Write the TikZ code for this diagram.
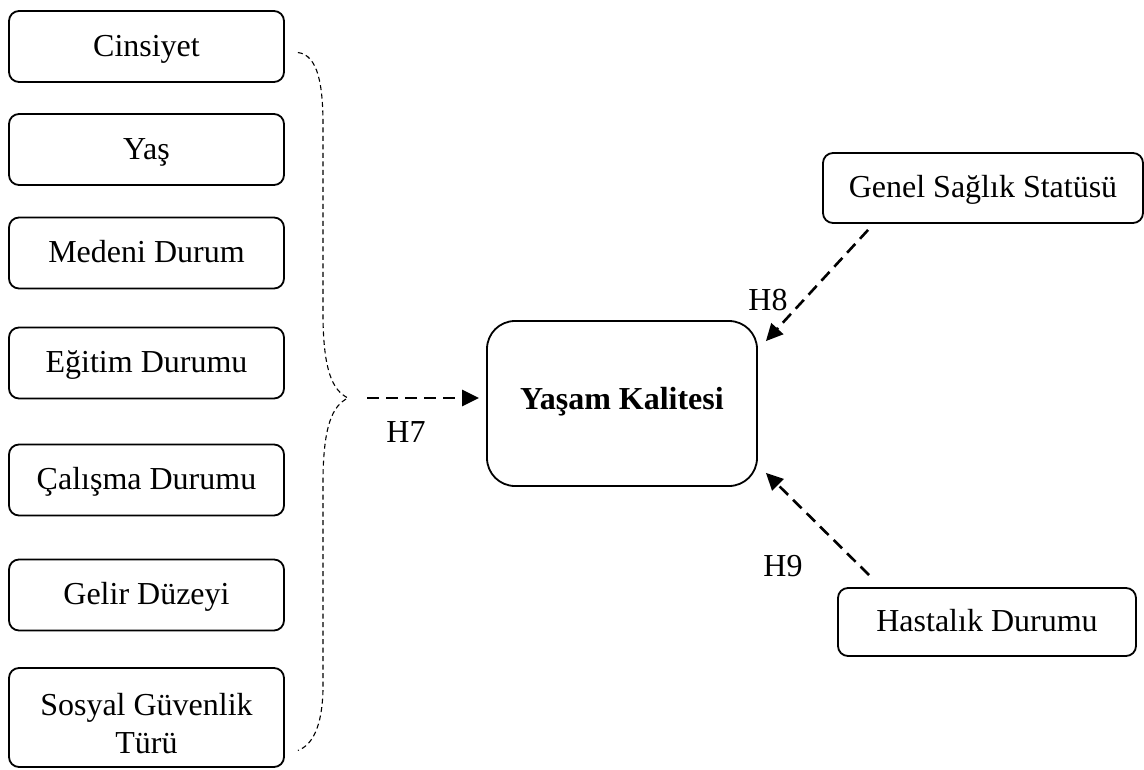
\documentclass[tikz,border=0pt]{standalone}
\usepackage{fontspec}
\setmainfont{Liberation Serif}
\usetikzlibrary{arrows.meta,calc}

\tikzset{
  varbox/.style={draw, line width=1.8pt, rounded corners=10pt, inner sep=0pt,
    align=center, font=\fontsize{32}{38}\selectfont,
    text height=22pt, text depth=3pt},
  leftbox/.style={varbox, minimum width=275pt, minimum height=71pt},
  mainbox/.style={draw, line width=1.8pt, rounded corners=28pt, inner sep=0pt,
    minimum width=270pt, minimum height=165pt,
    font=\fontsize{32}{38}\selectfont\bfseries,
    text height=17pt, text depth=6pt},
  effect/.style={line width=2.6pt, dash pattern=on 12pt off 7pt,
    -{Triangle[length=17pt,width=16pt]}},
  bracebound/.style={line width=1.1pt, dash pattern=on 5pt off 3.5pt},
  hyp/.style={font=\fontsize{32}{38}\selectfont, inner sep=0pt}
}

\begin{document}
\begin{tikzpicture}[x=1pt, y=-1pt]
\useasboundingbox (0,0) rectangle (1144,769);

% demographic variables
\node[leftbox] (cin) at (146.5,46.5)  {Cinsiyet};
\node[leftbox] (yas) at (146.5,149.5) {Yaş};
\node[leftbox] (med) at (146.5,253)   {Medeni Durum};
\node[leftbox] (egi) at (146.5,363)   {Eğitim Durumu};
\node[leftbox] (cal) at (146.5,480)   {Çalışma Durumu};
\node[leftbox] (gel) at (146.5,595)   {Gelir Düzeyi};
\node[varbox, minimum width=275pt, minimum height=99pt, text height=71pt, text depth=0pt]
  (sos) at (146.5,717.5) {Sosyal Güvenlik\\Türü};

% outcome and health variables
\node[mainbox] (yk) at (622,403.5) {Yaşam Kalitesi};
\node[varbox, minimum width=320pt, minimum height=70pt] (gs) at (983,188) {Genel Sağlık Statüsü};
\node[varbox, minimum width=298pt, minimum height=68pt] (hd) at (987,622) {Hastalık Durumu};

% dashed brace grouping the demographic variables
\coordinate (btop) at ($(cin.east)+(13,6)$);
\coordinate (bbot) at ($(sos.east)+(13,33)$);
\coordinate (btip) at (348,398);
\draw[bracebound] (btop) .. controls (318,55) and (323,85) .. (323,125)
  -- (323,320) .. controls (324,370) and (332,390) .. (btip)
  .. controls (332,406) and (324,426) .. (323,476)
  -- (323,690) .. controls (322,728) and (312,745) .. (bbot);

% hypothesised effects
\draw[effect] ($(btip)+(19,0)$) -- ($(yk.west)+(-7,-5.5)$);
\draw[effect] ($(gs.south west)+(46,6)$) -- ($(yk.north east)+(8,21)$);
\draw[effect] ($(hd.north west)+(32,-12)$) -- ($(yk.south east)+(8,-14)$);

\node[hyp] (h7) at (406,432) {H7};
\node[hyp] (h8) at (768,300) {H8};
\node[hyp] (h9) at (783,566) {H9};
\end{tikzpicture}
\end{document}
